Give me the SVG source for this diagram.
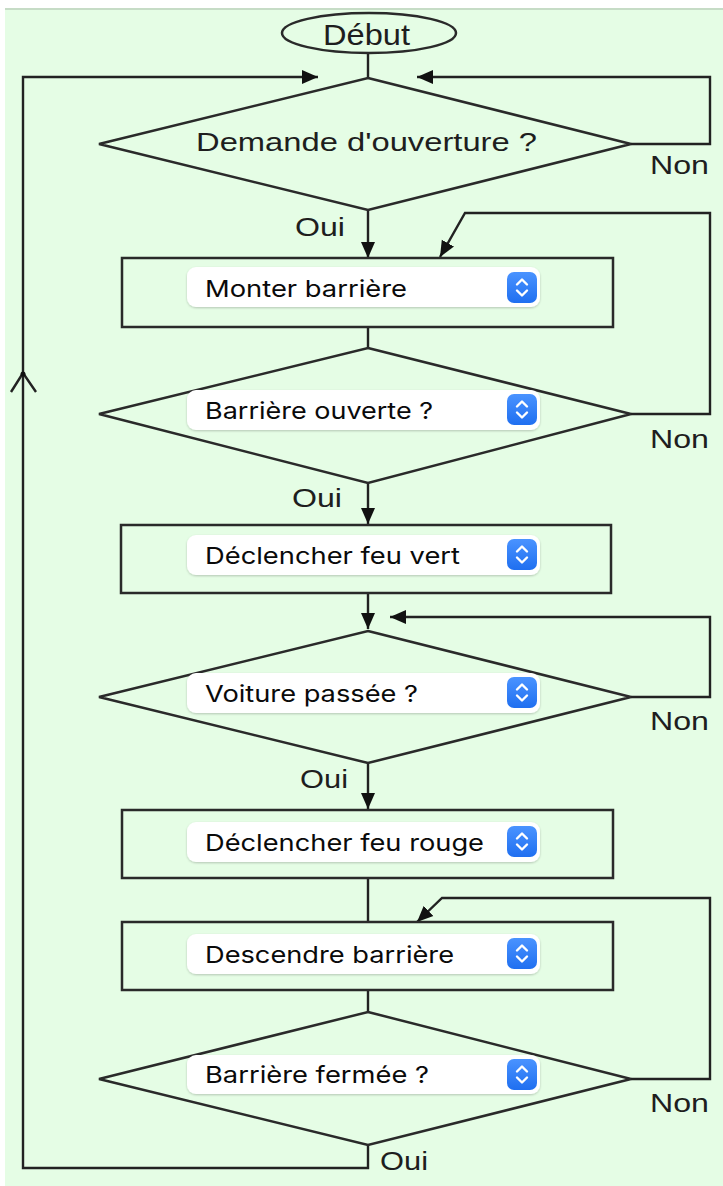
<svg xmlns="http://www.w3.org/2000/svg" xmlns:xlink="http://www.w3.org/1999/xlink" width="723" height="1186" viewBox="0 0 723 1186">
<defs>
<style>
.ln{fill:none;stroke:#222;stroke-width:2.4;stroke-linejoin:miter}
.shape{fill:none;stroke:#2a2a2a;stroke-width:2.5}
.px{font-family:"Liberation Sans",Arial,sans-serif;fill:#1e1e1e}
.pill{fill:#fff;filter:url(#sh)}
.pt{font-family:Inter,"Noto Sans",sans-serif;font-size:23.5px;font-weight:400;fill:#0a0a0a}
</style>
<filter id="sh" x="-5%" y="-20%" width="110%" height="150%">
<feDropShadow dx="0" dy="1" stdDeviation="1.2" flood-color="#000" flood-opacity="0.22"/>
</filter>
<linearGradient id="bg" x1="0" y1="0" x2="0" y2="1">
<stop offset="0" stop-color="#4a93ff"/><stop offset="1" stop-color="#1f6ff0"/>
</linearGradient>
<marker id="ar" markerUnits="userSpaceOnUse" markerWidth="18" markerHeight="16" refX="16" refY="8" orient="auto">
<path d="M0,1 L16,8 L0,15 z" fill="#111"/>
</marker>
<g id="icon">
<rect x="0" y="0" width="30" height="31" rx="7" fill="url(#bg)"/>
<path d="M10,12.5 L15,7.5 L20,12.5 M10,18.5 L15,23.5 L20,18.5" fill="none" stroke="#fff" stroke-width="2.4" stroke-linecap="round" stroke-linejoin="round"/>
</g>
</defs>
<rect x="0" y="0" width="723" height="1186" fill="#ffffff"/>
<rect x="5" y="8" width="718" height="1178" fill="#e5fde5"/>
<rect x="5" y="8" width="718" height="2" fill="#c6dcc6"/>

<g id="connectors">
<path class="ln" d="M368,53 V78"/>
<path class="ln" d="M368,1145 V1168 H23 V77 H318" marker-end="url(#ar)"/>
<path class="ln" d="M11,392 L23,373 L36,392"/>
<circle cx="23" cy="374" r="2.5" fill="#111"/>
<path class="ln" d="M631,144 H710 V77 H417" marker-end="url(#ar)"/>
<path class="ln" d="M368,210 V258" marker-end="url(#ar)"/>
<path class="ln" d="M368,327 V348"/>
<path class="ln" d="M631,414 H710 V213 H465 L440,257" marker-end="url(#ar)"/>
<path class="ln" d="M368,483 V524" marker-end="url(#ar)"/>
<path class="ln" d="M368,593 V629" marker-end="url(#ar)"/>
<path class="ln" d="M631,697 H710 V617 H390" marker-end="url(#ar)"/>
<path class="ln" d="M368,763 V809" marker-end="url(#ar)"/>
<path class="ln" d="M368,878 V922"/>
<path class="ln" d="M368,990 V1012"/>
<path class="ln" d="M631,1079 H710 V898 H442 L417,922" marker-end="url(#ar)"/>
</g>

<g id="debut">
<ellipse class="shape" cx="369" cy="33" rx="87" ry="20"/>
<text class="px" x="323" y="45" font-size="29" textLength="87" lengthAdjust="spacingAndGlyphs">Début</text>
</g>

<g id="d1">
<polygon class="shape" points="368,78 631,144 368,210 99,144"/>
<text class="px" x="196" y="151" font-size="25" textLength="341" lengthAdjust="spacingAndGlyphs">Demande d'ouverture ?</text>
<text class="px" x="650" y="174" font-size="25" textLength="59" lengthAdjust="spacingAndGlyphs">Non</text>
<text class="px" x="295" y="236" font-size="25" textLength="50" lengthAdjust="spacingAndGlyphs">Oui</text>
</g>

<g id="r1">
<rect class="shape" x="122" y="258" width="491" height="69"/>
<rect class="pill" x="187" y="267" width="353" height="40" rx="9"/>
<text class="pt" x="205" y="297" textLength="202" lengthAdjust="spacingAndGlyphs">Monter barrière</text>
<use xlink:href="#icon" x="507" y="272"/>
</g>

<g id="d2">
<polygon class="shape" points="368,348 631,414 368,483 99,414"/>
<rect class="pill" x="187" y="390" width="353" height="40" rx="9"/>
<text class="pt" x="205" y="419" textLength="228" lengthAdjust="spacingAndGlyphs">Barrière ouverte ?</text>
<use xlink:href="#icon" x="507" y="394"/>
<text class="px" x="650" y="448" font-size="25" textLength="59" lengthAdjust="spacingAndGlyphs">Non</text>
<text class="px" x="292" y="507" font-size="25" textLength="50" lengthAdjust="spacingAndGlyphs">Oui</text>
</g>

<g id="r2">
<rect class="shape" x="121" y="525" width="490" height="68"/>
<rect class="pill" x="187" y="535" width="353" height="40" rx="9"/>
<text class="pt" x="205" y="564" textLength="255" lengthAdjust="spacingAndGlyphs">Déclencher feu vert</text>
<use xlink:href="#icon" x="507" y="539"/>
</g>

<g id="d3">
<polygon class="shape" points="368,631 631,697 368,763 99,697"/>
<rect class="pill" x="187" y="673" width="353" height="40" rx="9"/>
<text class="pt" x="205" y="702" textLength="213" lengthAdjust="spacingAndGlyphs">Voiture passée ?</text>
<use xlink:href="#icon" x="507" y="677"/>
<text class="px" x="650" y="730" font-size="25" textLength="59" lengthAdjust="spacingAndGlyphs">Non</text>
<text class="px" x="300" y="788" font-size="25" textLength="48" lengthAdjust="spacingAndGlyphs">Oui</text>
</g>

<g id="r3">
<rect class="shape" x="122" y="810" width="491" height="68"/>
<rect class="pill" x="187" y="822" width="353" height="40" rx="9"/>
<text class="pt" x="205" y="851" textLength="279" lengthAdjust="spacingAndGlyphs">Déclencher feu rouge</text>
<use xlink:href="#icon" x="507" y="826"/>
</g>

<g id="r4">
<rect class="shape" x="122" y="922" width="491" height="68"/>
<rect class="pill" x="187" y="934" width="353" height="40" rx="9"/>
<text class="pt" x="205" y="963" textLength="249" lengthAdjust="spacingAndGlyphs">Descendre barrière</text>
<use xlink:href="#icon" x="507" y="938"/>
</g>

<g id="d4">
<polygon class="shape" points="368,1012 631,1079 368,1145 99,1079"/>
<rect class="pill" x="187" y="1055" width="353" height="39" rx="9"/>
<text class="pt" x="205" y="1083" textLength="224" lengthAdjust="spacingAndGlyphs">Barrière fermée ?</text>
<use xlink:href="#icon" x="507" y="1059"/>
<text class="px" x="650" y="1112" font-size="25" textLength="59" lengthAdjust="spacingAndGlyphs">Non</text>
<text class="px" x="380" y="1170" font-size="25" textLength="48" lengthAdjust="spacingAndGlyphs">Oui</text>
</g>
</svg>
